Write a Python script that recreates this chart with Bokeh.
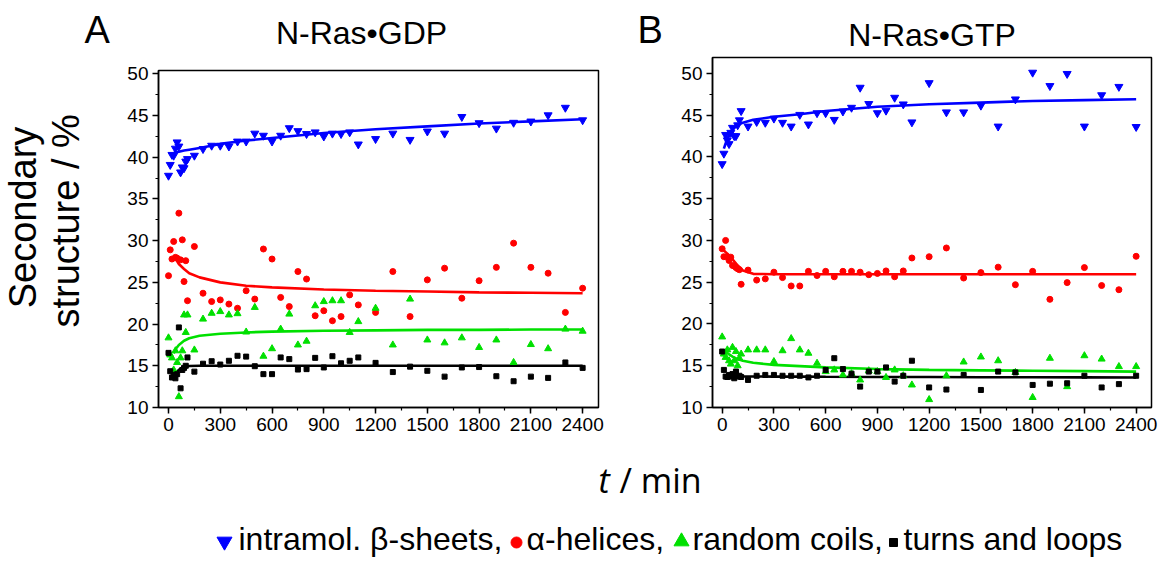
import math
from bokeh.plotting import figure
from bokeh.models import Range1d, SingleIntervalTicker, Label, Title
from bokeh.layouts import column, row
from bokeh.embed import file_html
from bokeh.resources import INLINE

# ---------------- data ----------------
t_meas = [0, 10, 20, 30, 40, 50, 60, 70, 80, 90, 100, 110,
          150, 200, 250, 300, 350, 400, 450, 500, 550, 600, 650, 700, 750, 800,
          850, 900, 950, 1000, 1050, 1100,
          1200, 1300, 1400, 1500, 1600, 1700, 1800, 1900, 2000, 2100, 2200, 2300, 2400]

# Panel A: N-Ras*GDP
sheets_A = [37.8, 39.1, 40.3, 40.2, 41.05, 41.8, 41.3, 38.2, 38.8, 38.7, 39.5, 39.8,
            40.2, 41.0, 41.4, 41.4, 41.3, 41.9, 41.9, 42.85, 42.6, 41.9, 42.6, 43.5, 43.15, 42.8,
            43.0, 42.5, 42.85, 42.8, 43.0, 41.55,
            42.2, 42.85, 42.1, 43.1, 42.85, 44.85, 44.1, 43.45, 44.15, 44.3, 45.05, 45.95, 44.45]
helices_A = [25.8, 28.9, 27.8, 29.9, 28.0, 27.9, 33.3, 27.7, 30.1, 25.1, 27.6, 22.8,
             29.3, 23.7, 22.7, 22.9, 22.4, 21.9, 24.0, 23.0, 29.0, 27.8, 23.2, 22.1, 26.3, 25.4,
             21.0, 21.6, 20.4, 20.9, 23.5, 22.3,
             21.4, 26.3, 20.9, 25.3, 26.7, 23.1, 25.2, 26.8, 29.7, 26.8, 26.1, 21.4, 24.3]
coils_A = [18.35, 16.3, 15.95, 14.5, 16.8, 15.4, 11.3, 15.95, 16.8, 21.1, 19.0, 21.1,
           16.9, 20.6, 21.3, 21.5, 21.1, 21.25, 19.05, 22.0, 16.15, 17.05, 19.4, 21.2, 17.5, 17.95,
           22.2, 22.7, 22.8, 22.8, 19.0, 20.3,
           21.9, 17.5, 23.0, 18.1, 17.75, 18.35, 17.2, 18.1, 15.4, 17.55, 17.05, 19.4, 19.15]
turns_A = [16.55, 14.35, 13.6, 13.9, 13.5, 14.0, 19.6, 12.3, 14.5, 14.75, 15.0, 16.0,
           14.3, 15.25, 15.55, 15.15, 15.6, 16.2, 16.1, 14.95, 14.0, 14.0, 16.0, 15.8, 14.55, 14.6,
           15.95, 14.8, 16.15, 15.3, 15.6, 16.0,
           15.35, 14.25, 14.9, 14.4, 13.7, 14.8, 14.85, 13.75, 13.15, 13.7, 13.55, 15.4, 14.75]

t_fit_A = [30, 45, 60, 90, 120, 180, 300, 450, 600, 900, 1200, 1500, 1800, 2100, 2400]
sheets_fit_A = [40.5, 40.6, 40.65, 40.8, 40.9, 41.1, 41.6, 42.0, 42.3, 42.9, 43.35, 43.7, 44.05, 44.3, 44.55]
helices_fit_A = [28.2, 27.7, 27.2, 26.6, 26.1, 25.6, 25.0, 24.6, 24.4, 24.15, 24.0, 23.9, 23.8, 23.75, 23.7]
coils_fit_A = [16.5, 17.1, 17.5, 18.0, 18.3, 18.6, 18.85, 19.0, 19.1, 19.2, 19.25, 19.3, 19.3, 19.35, 19.35]
turns_fit_A = [13.9, 14.2, 14.5, 14.9, 14.97, 15.0, 15.0, 15.0, 15.0, 15.0, 15.0, 15.0, 15.0, 15.0, 15.0]

# Panel B: N-Ras*GTP
sheets_B = [39.15, 40.4, 42.65, 42.0, 41.55, 42.9, 43.5, 42.5, 42.5, 43.8, 44.4, 45.5,
            43.65, 44.2, 44.1, 44.6, 44.1, 43.65, 45.05, 43.9, 45.25, 45.25, 44.45, 45.45, 45.9, 48.3,
            46.35, 45.25, 45.55, 47.1, 46.3, 44.15,
            48.85, 45.35, 45.35, 46.15, 43.65, 46.9, 50.1, 48.5, 49.95, 43.65, 47.4, 48.4, 43.6]
helices_B = [29.0, 28.05, 30.0, 28.05, 27.6, 28.0, 27.0, 26.95, 26.75, 26.6, 26.5, 24.75,
             26.45, 25.25, 25.4, 26.2, 25.55, 24.55, 24.55, 26.3, 25.8, 26.3, 25.65, 26.3, 26.3, 26.2,
             25.9, 26.05, 26.35, 25.65, 26.35, 27.9,
             28.05, 29.1, 25.5, 26.15, 26.8, 24.7, 26.3, 22.95, 24.95, 26.75, 24.6, 24.1, 28.1]
coils_B = [18.45, 16.4, 16.0, 16.9, 15.6, 15.2, 17.2, 15.6, 16.7, 15.0, 15.9, 16.4,
           16.9, 16.9, 16.9, 15.5, 16.8, 18.25, 16.9, 16.5, 15.3, 14.3, 14.5, 13.9, 14.05, 13.3,
           14.4, 14.3, 13.6, 14.5, 13.8, 12.7,
           10.95, 13.8, 15.45, 16.05, 15.6, 14.2, 11.2, 15.9, 12.5, 16.2, 15.8, 14.9, 14.9]
turns_B = [16.7, 14.5, 13.7, 13.65, 13.9, 13.7, 14.0, 13.5, 14.3, 13.7, 13.8, 13.65,
           13.3, 13.8, 13.9, 13.9, 13.8, 13.8, 13.8, 13.6, 13.8, 14.5, 15.9, 14.6, 14.05, 12.5,
           14.3, 14.3, 14.8, 13.1, 13.8, 15.6,
           12.4, 12.15, 13.9, 12.1, 14.3, 14.2, 12.7, 12.85, 12.9, 13.8, 12.4, 12.8, 13.8]

t_fit_B = [10, 20, 30, 45, 60, 90, 120, 180, 300, 450, 600, 900, 1200, 1500, 1800, 2100, 2400]
sheets_fit_B = [41.0, 41.6, 42.1, 42.8, 43.3, 43.8, 44.1, 44.45, 44.8, 45.1, 45.5, 46.0, 46.3, 46.5, 46.7, 46.8, 46.9]
helices_fit_B = [28.8, 28.6, 28.4, 28.1, 27.75, 27.0, 26.4, 26.0, 25.95, 25.95, 25.95, 25.95, 25.95, 25.95, 25.95, 25.95, 25.95]
coils_fit_B = [16.7, 16.6, 16.5, 16.3, 16.1, 15.8, 15.6, 15.35, 15.1, 14.95, 14.8, 14.6, 14.5, 14.45, 14.4, 14.35, 14.3]
turns_fit_B = [13.8, 13.78, 13.76, 13.75, 13.75, 13.74, 13.73, 13.72, 13.7, 13.7, 13.68, 13.66, 13.65, 13.63, 13.62, 13.61, 13.6]

titles = ["N-Ras\u2022GDP", "N-Ras\u2022GTP"]
letters = ["A", "B"]
y_label_lines = ["Secondary", "structure / %"]
legend_texts = ["intramol. \u03b2-sheets,", "\u03b1-helices,", "random coils,", "turns and loops"]

# ---------------- style ----------------
BLUE, RED, GREEN, BLACK = "#0000ff", "#ff0000", "#00e000", "#000000"
SANS = "Liberation Sans"
HEAD_H = 56          # header strip above panel A
PLOT_H = 455         # page y of the bottom of the panels row
BOT_H = 106
SPLIT_X = 670        # page x where panel B's canvas starts
SHIFT = 0.4          # label anchor correction, in em


def panel(width, height, bl, br, bt, bb, x0, x1, y1):
    p = figure(width=width, height=height, output_backend="svg", toolbar_location=None,
               title=None,
               x_range=Range1d(x0, x1), y_range=Range1d(10, y1),
               min_border_left=bl, min_border_right=br, min_border_top=bt, min_border_bottom=bb)
    p.grid.visible = False
    p.outline_line_color = "black"
    p.outline_line_width = 1.5
    p.outline_line_alpha = 1.0
    for ax in (p.xaxis[0], p.yaxis[0]):
        ax.axis_line_width = 1.5
        ax.major_tick_line_width = 1.5
        ax.minor_tick_line_width = 1.2
        ax.major_tick_in = 0
        ax.major_tick_out = 6
        ax.minor_tick_in = 0
        ax.minor_tick_out = 3
        ax.major_label_text_font = SANS
        ax.major_label_text_font_size = "19px"
        ax.major_label_text_color = "black"
        ax.major_label_standoff = 4
    p.xaxis[0].ticker = SingleIntervalTicker(interval=300, num_minor_ticks=2)
    p.yaxis[0].ticker = SingleIntervalTicker(interval=5, num_minor_ticks=2)
    return p


def add_series(p, sheets, helices, coils, turns, tf, sf, hf, cf, tuf):
    p.line(tf, sf, line_width=2.6, color=BLUE)
    p.line(tf, hf, line_width=2.6, color=RED)
    p.line(tf, cf, line_width=2.6, color=GREEN)
    p.line(tf, tuf, line_width=2.6, color=BLACK)
    p.scatter(t_meas, sheets, marker="inverted_triangle", size=8, color=BLUE)
    p.scatter(t_meas, helices, marker="circle", size=6, color=RED)
    p.scatter(t_meas, coils, marker="triangle", size=7, color=GREEN)
    p.scatter(t_meas, turns, marker="square", size=5, color=BLACK)


def strip(width, height, x0, y0):
    # a bare figure whose data coordinates are page pixels (y grows downward)
    s = figure(width=width, height=height, output_backend="svg", toolbar_location=None,
               title=None,
               x_range=Range1d(x0, x0 + width), y_range=Range1d(y0 + height, y0),
               x_axis_type=None, y_axis_type=None, min_border=0)
    s.grid.visible = False
    s.outline_line_color = None
    return s


def label(p, x, y, text, size, font=SANS, align="left", vertical=False, style="normal"):
    # (x, y): wanted baseline point in page pixels
    if vertical:
        x = x - SHIFT * size
    else:
        y = y - SHIFT * size
    p.add_layout(Label(x=x, y=y, text=text, text_font=font, text_font_size=f"{size}px",
                       text_align=align, text_baseline="alphabetic",
                       angle=math.pi / 2 if vertical else 0.0,
                       text_font_style=style, text_color="black"))


# Header strip above panel A: letters and the GDP title
head = strip(SPLIT_X, HEAD_H, 0, 0)
label(head, 84, 45, letters[0], 38)
label(head, 361, 45, titles[0], 32, align="center")
label(head, 637, 45, letters[1], 38)

# Left strip: y-axis title
left = strip(100, PLOT_H - HEAD_H, 0, HEAD_H)
label(left, 38, 230, y_label_lines[0], 38, align="center", vertical=True)
label(left, 81, 234, y_label_lines[1], 38, align="center", vertical=True)

# Panel A  (page x 100..670; frame 158..598, y 70..407)
pA = panel(SPLIT_X - 100, PLOT_H - HEAD_H, 58, SPLIT_X - 598, 70 - HEAD_H, 48, -58, 2492, 50.4)
add_series(pA, sheets_A, helices_A, coils_A, turns_A, t_fit_A,
           sheets_fit_A, helices_fit_A, coils_fit_A, turns_fit_A)

# Panel B  (page x 670..1159; frame 712..1151, y 57..407)
pB = panel(1159 - SPLIT_X, PLOT_H, 712 - SPLIT_X, 8, 57, 48, -56, 2489, 51.9)
pB.add_layout(Title(text=titles[1], align="center", offset=13, text_font=SANS,
                    text_font_size="32px", text_font_style="normal", text_color="black",
                    standoff=9), "above")
add_series(pB, sheets_B, helices_B, coils_B, turns_B, t_fit_B,
           sheets_fit_B, helices_fit_B, coils_fit_B, turns_fit_B)

# Bottom strip: x-axis title and legend
bot = strip(1159, BOT_H, 0, PLOT_H)
label(bot, 598, 493, "t", 34, font="Open Sans", style="italic")
label(bot, 619, 493, "/ min", 34, font="Open Sans")

bot.scatter([224], [541], marker="inverted_triangle", size=15, color=BLUE)
bot.scatter([516], [542], marker="circle", size=11, color=RED)
bot.scatter([681], [541], marker="triangle", size=15, color=GREEN)
bot.scatter([893], [542], marker="square", size=8, color=BLACK)
label(bot, 238, 551, legend_texts[0], 32)
label(bot, 526, 551, legend_texts[1], 32)
label(bot, 692, 551, legend_texts[2], 32)
label(bot, 903, 551, legend_texts[3], 32)

layout = column(row(column(head, row(left, pA)), pB), bot)
open("out.html", "w").write(file_html(layout, INLINE))
